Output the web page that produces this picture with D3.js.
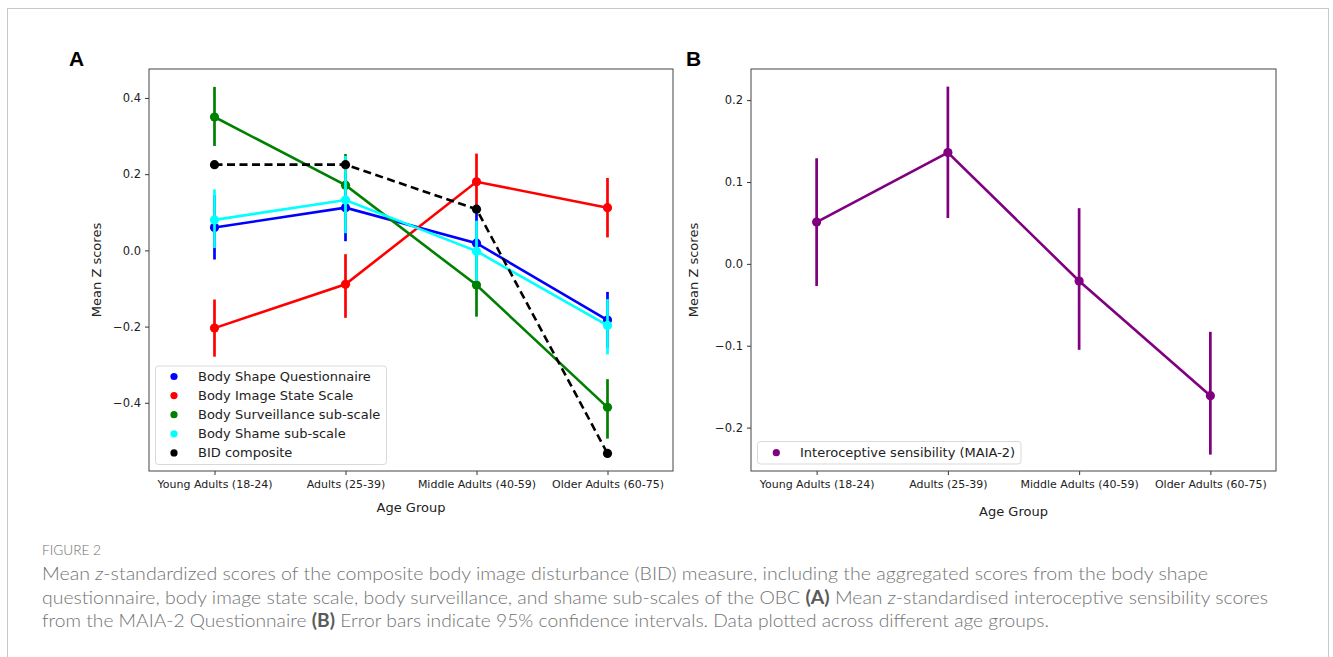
<!DOCTYPE html>
<html>
<head>
<meta charset="utf-8">
<script src="https://cdn.jsdelivr.net/npm/d3@7/dist/d3.min.js"></script>
<style>
  html, body { margin: 0; padding: 0; background: #fff; }
  svg { display: block; }
</style>
</head>
<body>
<svg id="chart" width="1333" height="657"></svg>
<script>
// ---------- DATA ----------
const categories = ["Young Adults (18-24)", "Adults (25-39)", "Middle Adults (40-59)", "Older Adults (60-75)"];

const bsqMean   = [0.060, 0.112, 0.019, -0.183];
const bsqLo     = [-0.024, 0.024, -0.060, -0.255];
const bsqHi     = [0.145, 0.200, 0.100, -0.109];

const bissMean  = [-0.204, -0.089, 0.180, 0.112];
const bissLo    = [-0.279, -0.177, 0.106, 0.034];
const bissHi    = [-0.129, -0.010, 0.254, 0.190];

const survMean  = [0.350, 0.171, -0.091, -0.412];
const survLo    = [0.274, 0.090, -0.174, -0.494];
const survHi    = [0.429, 0.253, -0.010, -0.338];

const shameMean = [0.080, 0.132, -0.002, -0.197];
const shameLo   = [0.006, 0.045, -0.080, -0.273];
const shameHi   = [0.160, 0.248, 0.078, -0.128];

const bidMean   = [0.225, 0.225, 0.108, -0.533];

const maiaMean  = [0.051, 0.136, -0.021, -0.161];
const maiaLo    = [-0.027, 0.056, -0.105, -0.233];
const maiaHi    = [0.129, 0.2165, 0.068, -0.083];

const ticksA = [-0.4, -0.2, 0.0, 0.2, 0.4];
const ticksB = [-0.2, -0.1, 0.0, 0.1, 0.2];

const seriesNamesA = ["Body Shape Questionnaire", "Body Image State Scale", "Body Surveillance sub-scale", "Body Shame sub-scale", "BID composite"];
const seriesNameB = "Interoceptive sensibility (MAIA-2)";

// ---------- BUILD ----------
const seriesA = [
  {name: seriesNamesA[0], color: "#0000ff", mean: bsqMean, lo: bsqLo, hi: bsqHi},
  {name: seriesNamesA[1], color: "#ff0000", mean: bissMean, lo: bissLo, hi: bissHi},
  {name: seriesNamesA[2], color: "#008000", mean: survMean, lo: survLo, hi: survHi},
  {name: seriesNamesA[3], color: "#00ffff", mean: shameMean, lo: shameLo, hi: shameHi},
  {name: seriesNamesA[4], color: "#000000", mean: bidMean, lo: null, hi: null, dash: "8,4.5"}
];
const seriesB = [
  {name: seriesNameB, color: "#800080", mean: maiaMean, lo: maiaLo, hi: maiaHi}
];

const svg = d3.select("#chart");
const fontAxis = "DejaVu Sans, sans-serif";
const fmt = v => (v < 0 ? "\u2212" : "") + Math.abs(v).toFixed(1);

// outer frame
svg.append("rect").attr("x", 7.5).attr("y", 8.5).attr("width", 1321).attr("height", 700)
  .attr("fill", "none").attr("stroke", "#c8c8c8").attr("stroke-width", 1);

function panel(opts) {
  const {x0, x1, y0, y1, domain, ticks, series, legend, letter, letterX, xLabelY, yLabelX} = opts;
  const g = svg.append("g");
  const x = d3.scaleLinear().domain([-0.5, 3.5]).range([x0, x1]);
  const y = d3.scaleLinear().domain(domain).range([y1, y0]);

  const yAxis = d3.axisLeft(y).tickValues(ticks).tickFormat(fmt).tickSize(4).tickPadding(4);
  const ya = g.append("g").attr("transform", `translate(${x0},0)`).call(yAxis);
  ya.select(".domain").remove();
  ya.selectAll("line").attr("stroke", "#333");
  ya.selectAll("text").attr("font-family", fontAxis).attr("font-size", 11.5).attr("fill", "#222");

  const xAxis = d3.axisBottom(x).tickValues([0, 1, 2, 3]).tickFormat(i => categories[i]).tickSize(4).tickPadding(5);
  const xa = g.append("g").attr("transform", `translate(0,${y1})`).call(xAxis);
  xa.select(".domain").remove();
  xa.selectAll("line").attr("stroke", "#333");
  xa.selectAll("text").attr("font-family", fontAxis).attr("font-size", 11).attr("fill", "#222");

  series.forEach(s => {
    const pts = s.mean.map((m, i) => [x(i), y(m)]);
    if (s.lo) {
      g.append("g").selectAll("line").data(s.mean).join("line")
        .attr("x1", (d, i) => x(i)).attr("x2", (d, i) => x(i))
        .attr("y1", (d, i) => y(s.lo[i])).attr("y2", (d, i) => y(s.hi[i]))
        .attr("stroke", s.color).attr("stroke-width", 2.7);
    }
    g.append("path").attr("d", d3.line()(pts)).attr("fill", "none")
      .attr("stroke", s.color).attr("stroke-width", 2.6)
      .attr("stroke-dasharray", s.dash || null);
    g.append("g").selectAll("circle").data(pts).join("circle")
      .attr("cx", d => d[0]).attr("cy", d => d[1]).attr("r", 4.6).attr("fill", s.color);
  });

  g.append("rect").attr("x", x0).attr("y", y0).attr("width", x1 - x0).attr("height", y1 - y0)
    .attr("fill", "none").attr("stroke", "#444").attr("stroke-width", 1);

  const lg = g.append("g");
  lg.append("rect").attr("x", legend.x).attr("y", legend.y).attr("width", legend.w).attr("height", legend.h)
    .attr("rx", 3).attr("fill", "white").attr("fill-opacity", 0.85)
    .attr("stroke", "#d9d9d9").attr("stroke-width", 1);
  series.forEach((s, i) => {
    const cy = legend.y + legend.first + i * legend.step;
    lg.append("circle").attr("cx", legend.mx).attr("cy", cy).attr("r", 3.6).attr("fill", s.color);
    lg.append("text").attr("x", legend.tx).attr("y", cy).attr("dy", "0.35em")
      .attr("font-family", fontAxis).attr("font-size", 13).attr("fill", "#222").text(s.name);
  });

  g.append("text").attr("x", (x0 + x1) / 2).attr("y", xLabelY).attr("dy", "0.35em").attr("text-anchor", "middle")
    .attr("font-family", fontAxis).attr("font-size", 13).attr("fill", "#222").text("Age Group");
  g.append("text").attr("transform", `translate(${yLabelX},${(y0 + y1) / 2}) rotate(-90)`)
    .attr("dy", "0.35em").attr("text-anchor", "middle")
    .attr("font-family", fontAxis).attr("font-size", 13).attr("fill", "#222").text("Mean Z scores");

  g.append("text").attr("x", letterX).attr("y", 58).attr("dy", "0.36em")
    .attr("font-family", "Liberation Sans, Arial, sans-serif").attr("font-weight", "bold")
    .attr("font-size", 21).attr("fill", "#000").text(letter);
}

panel({
  x0: 149, x1: 673, y0: 69, y1: 471, domain: [-0.579, 0.476], ticks: ticksA, series: seriesA,
  legend: {x: 155.5, y: 366, w: 231, h: 98.5, first: 10.5, step: 19.1, mx: 174, tx: 198},
  letter: "A", letterX: 69, xLabelY: 507.5, yLabelX: 96
});
panel({
  x0: 751, x1: 1276, y0: 69, y1: 471, domain: [-0.253, 0.238], ticks: ticksB, series: seriesB,
  legend: {x: 757.5, y: 441.5, w: 263.5, h: 22.5, first: 11.2, step: 19.1, mx: 776.3, tx: 800},
  letter: "B", letterX: 686, xLabelY: 511, yLabelX: 693
});

// ---------- CAPTION ----------
const capFont = "Lato, 'Open Sans', sans-serif";
svg.append("text").attr("x", 42).attr("y", 550).attr("dy", "0.35em")
  .attr("font-family", capFont).attr("font-size", 13.5).attr("font-weight", 300).attr("fill", "#6e6e6e")
  .attr("textLength", 59).attr("lengthAdjust", "spacingAndGlyphs").text("FIGURE 2");

const capLines = [
  {y: 574, end: 1208, parts: [["Mean ", ""], ["z", "i"], ["-standardized scores of the composite body image disturbance (BID) measure, including the aggregated scores from the body shape", ""]]},
  {y: 597.5, end: 1268, parts: [["questionnaire, body image state scale, body surveillance, and shame sub-scales of the OBC ", ""], ["(A)", "b"], [" Mean ", ""], ["z", "i"], ["-standardised interoceptive sensibility scores", ""]]},
  {y: 621, end: 1049, parts: [["from the MAIA-2 Questionnaire ", ""], ["(B)", "b"], [" Error bars indicate 95% confidence intervals. Data plotted across different age groups.", ""]]}
];
capLines.forEach(l => {
  const t = svg.append("text").attr("x", 42).attr("y", l.y).attr("dy", "0.35em")
    .attr("font-family", capFont).attr("font-size", 18).attr("font-weight", 300).attr("fill", "#737373")
    .attr("textLength", l.end - 42).attr("lengthAdjust", "spacingAndGlyphs");
  l.parts.forEach(p => {
    const ts = t.append("tspan").text(p[0]);
    if (p[1] === "i") ts.attr("font-style", "italic");
    if (p[1] === "b") ts.attr("font-weight", "bold").attr("fill", "#5a5a5a");
  });
});
</script>
</body>
</html>
